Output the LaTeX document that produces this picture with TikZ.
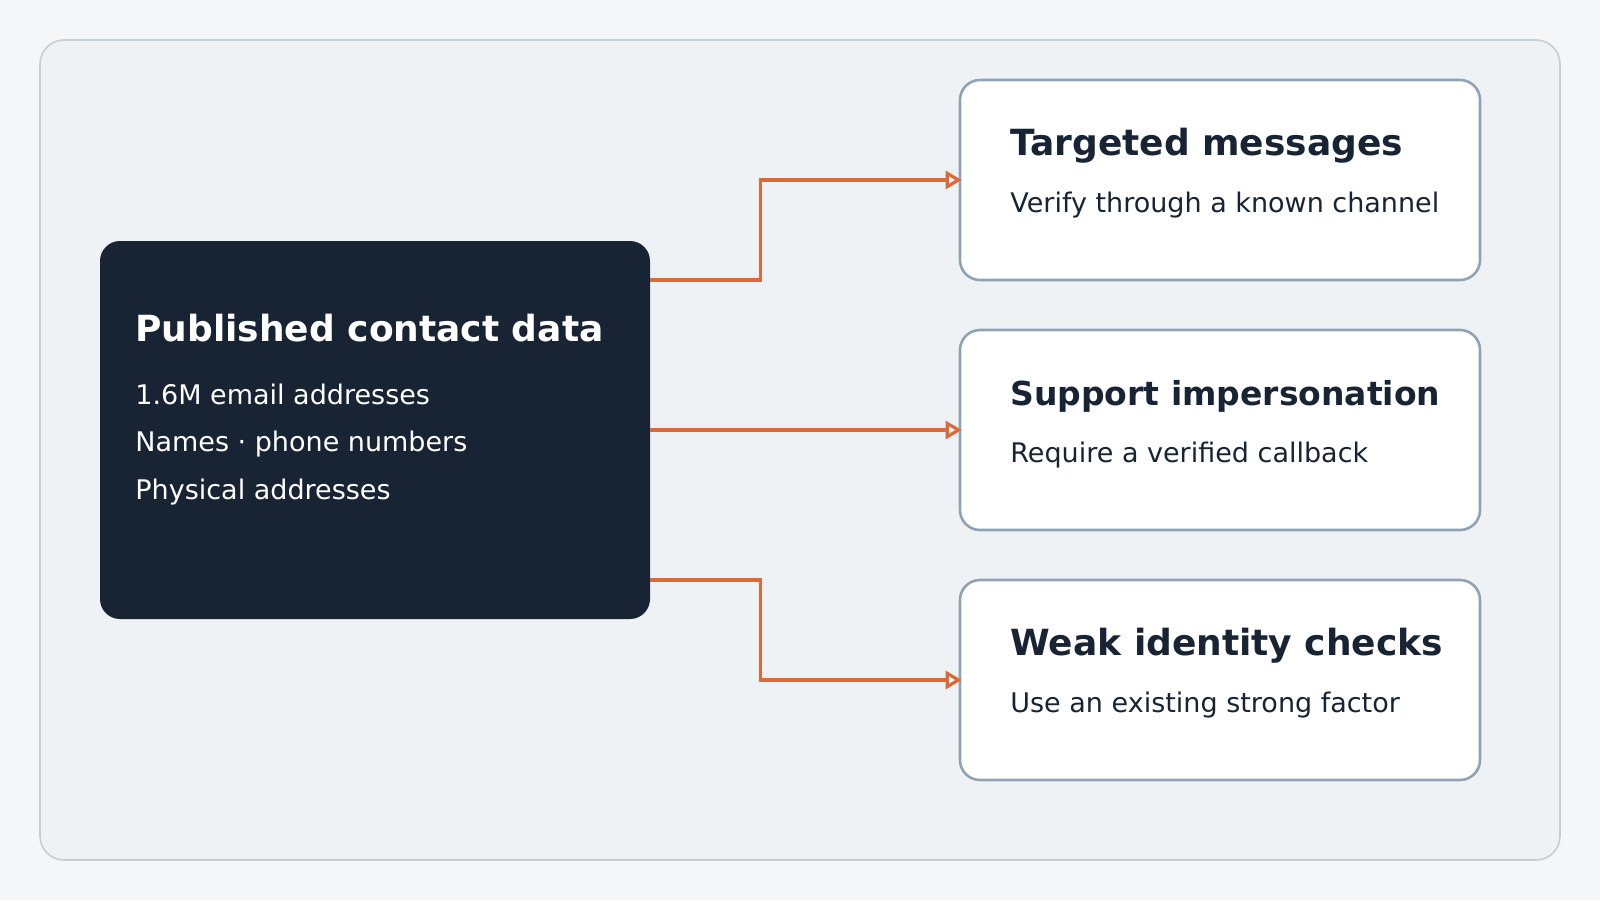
\documentclass[tikz,border=0pt]{standalone}
\usepackage{fontspec}
\setmainfont{DejaVu Sans}
\usetikzlibrary{arrows.meta,positioning}
\definecolor{pagebg}{HTML}{F4F6F8}
\definecolor{panelbg}{HTML}{EEF2F5}
\definecolor{panelline}{HTML}{C5CDD5}
\definecolor{navy}{HTML}{182433}
\definecolor{boxline}{HTML}{8FA3B5}
\definecolor{flowcol}{HTML}{D86B38}
\tikzset{
    databox/.style={fill=navy, rounded corners=10pt, minimum width=275pt, minimum height=189pt},
    riskbox/.style={draw=boxline, line width=1.3pt, fill=white, rounded corners=10pt, minimum width=260pt, minimum height=100pt},
    headtext/.style={anchor=base west, font=\fontsize{18}{22}\selectfont\bfseries, inner sep=0pt},
    bodytext/.style={anchor=base west, font=\fontsize{13.5}{16}\selectfont, inner sep=0pt},
    flow/.style={draw=flowcol, line width=1.6pt, shorten >=-1.5pt, -{Triangle[open, length=8pt, width=9pt]}}
}
\begin{document}
\begin{tikzpicture}[x=0.5pt,y=-0.5pt]
    \useasboundingbox (0,0) rectangle (1600,900);
    \fill[pagebg] (0,0) rectangle (1600,900);
    \filldraw[fill=panelbg, draw=panelline, line width=0.8pt, rounded corners=12pt] (40,40) rectangle (1560,860);

    \node[databox] (data) at (375,430) {};
    \node[headtext, text=white] (datatitle) at (135,341) {Published contact data};
    \node[bodytext, text=white] (email) at (135,404) {1.6M email addresses};
    \node[bodytext, text=white] (names) at (135,451.5) {Names · phone numbers};
    \node[bodytext, text=white] (phys) at (135,499) {Physical addresses};

    \node[riskbox] (msg) at (1220,180) {};
    \node[riskbox] (support) at (1220,430) {};
    \node[riskbox] (weak) at (1220,680) {};

    \node[headtext, text=navy] (msgtitle) at (1010,155) {Targeted messages};
    \node[bodytext, text=navy] (msgtext) at (1010,212.5) {Verify through a known channel};
    \node[headtext, text=navy, font=\fontsize{16.5}{20}\selectfont\bfseries] (supporttitle) at (1010,405) {Support impersonation};
    \node[bodytext, text=navy] (supporttext) at (1010,462) {Require a verified callback};
    \node[headtext, text=navy] (weaktitle) at (1010,655) {Weak identity checks};
    \node[bodytext, text=navy] (weaktext) at (1010,712) {Use an existing strong factor};

    \draw[flow] ([yshift=75pt]data.east) -- ++(110,0) |- (msg.west);
    \draw[flow] (data.east) -- (support.west);
    \draw[flow] ([yshift=-75pt]data.east) -- ++(110,0) |- (weak.west);
\end{tikzpicture}
\end{document}
